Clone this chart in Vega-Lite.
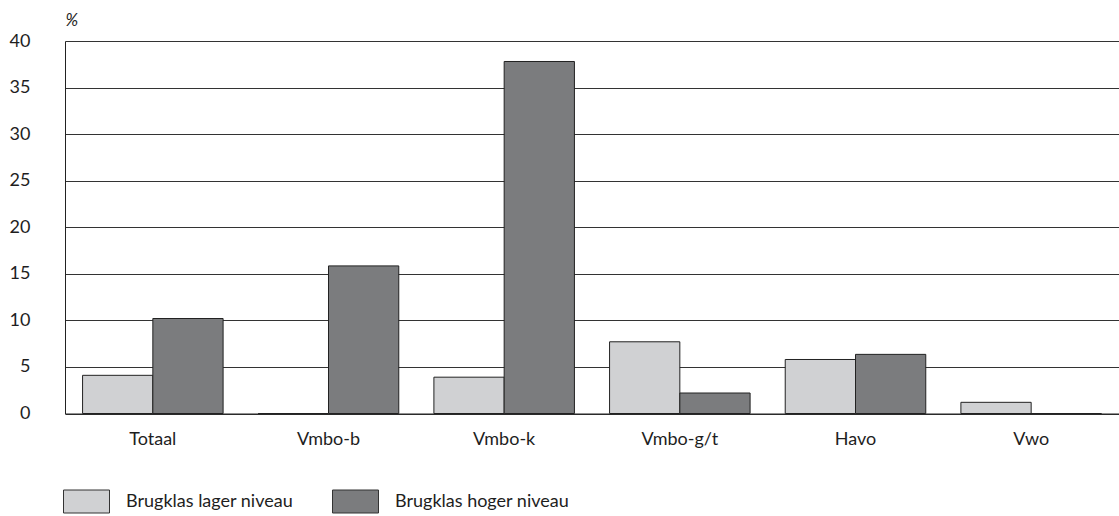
{
  "$schema": "https://vega.github.io/schema/vega-lite/v6.json",
  "autosize": "none",
  "padding": {"left": 65, "top": 41, "right": 0, "bottom": 102.5},
  "width": 1054,
  "height": 372.5,
  "data": {
    "values": [
      {"cat": "Totaal", "serie": "Brugklas lager niveau", "pct": 4.1},
      {"cat": "Totaal", "serie": "Brugklas hoger niveau", "pct": 10.2},
      {"cat": "Vmbo-b", "serie": "Brugklas lager niveau", "pct": 0},
      {"cat": "Vmbo-b", "serie": "Brugklas hoger niveau", "pct": 15.85},
      {"cat": "Vmbo-k", "serie": "Brugklas lager niveau", "pct": 3.9},
      {"cat": "Vmbo-k", "serie": "Brugklas hoger niveau", "pct": 37.8},
      {"cat": "Vmbo-g/t", "serie": "Brugklas lager niveau", "pct": 7.7},
      {"cat": "Vmbo-g/t", "serie": "Brugklas hoger niveau", "pct": 2.2},
      {"cat": "Havo", "serie": "Brugklas lager niveau", "pct": 5.8},
      {"cat": "Havo", "serie": "Brugklas hoger niveau", "pct": 6.35},
      {"cat": "Vwo", "serie": "Brugklas lager niveau", "pct": 1.2},
      {"cat": "Vwo", "serie": "Brugklas hoger niveau", "pct": 0}
    ]
  },
  "mark": {"type": "bar", "stroke": "#222222", "strokeWidth": 1, "opacity": 1},
  "encoding": {
    "x": {
      "field": "cat",
      "type": "nominal",
      "sort": ["Totaal", "Vmbo-b", "Vmbo-k", "Vmbo-g/t", "Havo", "Vwo"],
      "scale": {"paddingInner": 0.2, "paddingOuter": 0.1},
      "axis": {
        "title": null,
        "labelAngle": 0,
        "ticks": false,
        "labelPadding": 17,
        "labelFontSize": 18,
        "labelFont": "Lato",
        "labelFontWeight": "normal",
        "labelColor": "#1e1e1e",
        "domainColor": "#222222",
        "domainWidth": 1.2,
        "grid": false
      }
    },
    "xOffset": {
      "field": "serie",
      "type": "nominal",
      "sort": ["Brugklas lager niveau", "Brugklas hoger niveau"]
    },
    "y": {
      "field": "pct",
      "type": "quantitative",
      "scale": {"domain": [0, 40], "nice": false},
      "axis": {
        "values": [0, 5, 10, 15, 20, 25, 30, 35, 40],
        "title": "%",
        "titleAngle": 0,
        "titleAlign": "left",
        "titleBaseline": "middle",
        "titleX": 0,
        "titleY": -21,
        "titleFont": "Lato",
        "titleFontSize": 17,
        "titleFontStyle": "italic",
        "titleFontWeight": "normal",
        "titleColor": "#1e1e1e",
        "ticks": false,
        "labelPadding": 35,
        "labelFontSize": 18,
        "labelFont": "Lato",
        "labelFontWeight": "normal",
        "labelColor": "#1e1e1e",
        "domainColor": "#222222",
        "grid": true,
        "gridColor": "#333333",
        "gridWidth": 1
      }
    },
    "color": {
      "field": "serie",
      "type": "nominal",
      "sort": ["Brugklas lager niveau", "Brugklas hoger niveau"],
      "scale": {
        "domain": ["Brugklas lager niveau", "Brugklas hoger niveau"],
        "range": ["#d0d1d3", "#7b7c7e"]
      },
      "legend": {
        "title": null,
        "orient": "none",
        "legendX": -2,
        "legendY": 437,
        "direction": "horizontal",
        "symbolType": "M-1,-0.5H1V0.5H-1Z",
        "symbolSize": 2116,
        "symbolStrokeColor": "#333333",
        "symbolStrokeWidth": 1,
        "symbolOpacity": 1,
        "labelOffset": 16,
        "labelFontSize": 18,
        "labelFont": "Lato",
        "labelFontWeight": "normal",
        "labelColor": "#1e1e1e",
        "labelBaseline": "middle",
        "labelLimit": 400,
        "columnPadding": 36
      }
    }
  },
  "config": {
    "view": {"stroke": null},
    "background": "white"
  }
}
